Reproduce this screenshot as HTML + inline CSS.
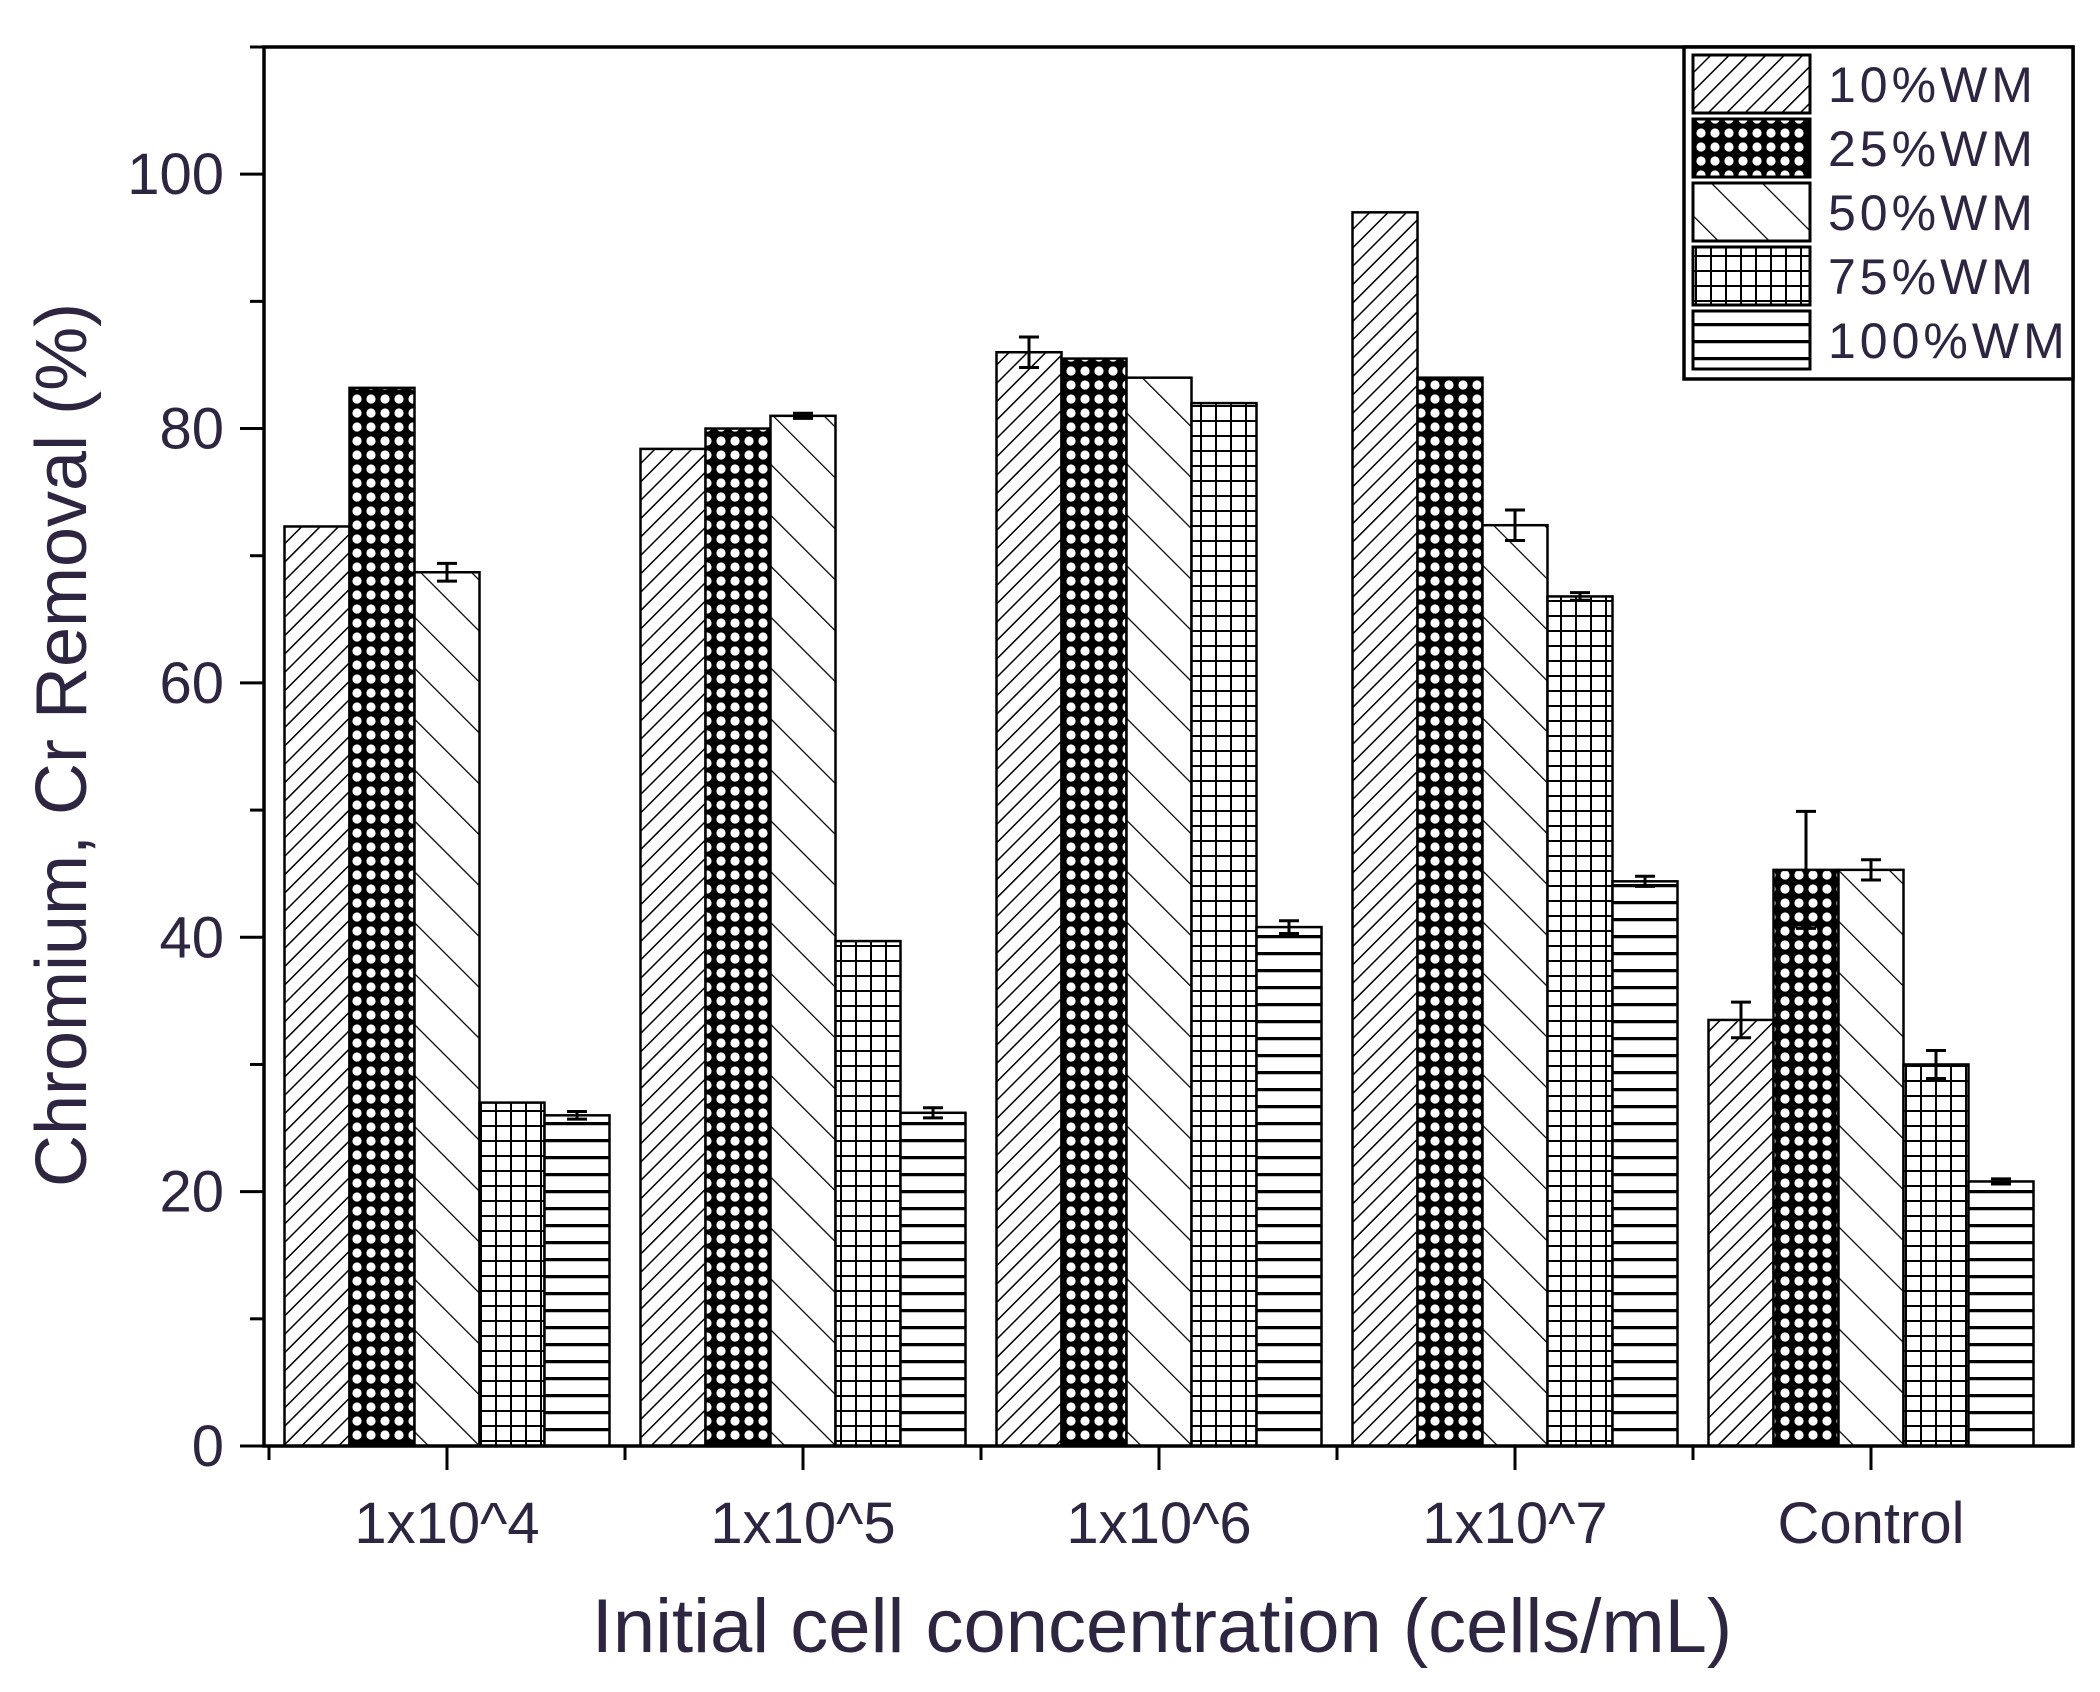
<!DOCTYPE html>
<html><head><meta charset="utf-8"><style>
html,body{margin:0;padding:0;background:#fff;}
svg{display:block;font-family:"Liberation Sans",Arial,sans-serif;}
</style></head><body>
<svg id="chart" width="2100" height="1692" viewBox="0 0 2100 1692" xmlns="http://www.w3.org/2000/svg">
<defs>
<pattern id="p0" patternUnits="userSpaceOnUse" width="13" height="13" patternTransform="rotate(45)"><rect width="13" height="13" fill="#fff"/><line x1="0" y1="0" x2="0" y2="13" stroke="#000" stroke-width="3"/></pattern>
<pattern id="p1" patternUnits="userSpaceOnUse" width="14" height="14"><rect width="14" height="14" fill="#000"/><circle cx="7" cy="7" r="4.6" fill="#fff"/></pattern>
<pattern id="p2" patternUnits="userSpaceOnUse" width="36" height="36" patternTransform="rotate(-45)"><rect width="36" height="36" fill="#fff"/><line x1="0" y1="0" x2="0" y2="36" stroke="#000" stroke-width="2.5"/></pattern>
<pattern id="p3" patternUnits="userSpaceOnUse" width="15" height="15"><rect width="15" height="15" fill="#fff"/><path d="M0 0H15M0 0V15" stroke="#000" stroke-width="4"/></pattern>
<pattern id="p4" patternUnits="userSpaceOnUse" width="17" height="17"><rect width="17" height="17" fill="#fff"/><line x1="0" y1="1.5" x2="17" y2="1.5" stroke="#000" stroke-width="3.5"/></pattern>
</defs>
<g id="plot"></g>
</svg>
<script>
const categories = ["1x10^4","1x10^5","1x10^6","1x10^7","Control"];
const seriesNames = ["10%WM","25%WM","50%WM","75%WM","100%WM"];
const s10 = [72.3, 78.4, 86.0, 97.0, 33.5];
const s25 = [83.2, 80.0, 85.5, 84.0, 45.3];
const s50 = [68.7, 81.0, 84.0, 72.4, 45.3];
const s75 = [27.0, 39.7, 82.0, 66.8, 30.0];
const s100 = [26.0, 26.2, 40.8, 44.4, 20.8];
const e10 = [0, 0, 1.2, 0, 1.4];
const e25 = [0, 0, 0, 0, 4.6];
const e50 = [0.7, 0.2, 0, 1.2, 0.8];
const e75 = [0, 0, 0, 0.3, 1.1];
const e100 = [0.3, 0.4, 0.5, 0.4, 0.2];
const yTicks = [0, 20, 40, 60, 80, 100];

const NS = "http://www.w3.org/2000/svg";
const g = document.getElementById('plot');
const L = 264, R = 2073, T = 47, B = 1446;
const yMax = 110;
const y = v => B - v * (B - T) / yMax;
const xc = i => 447 + i * 356;
const bw = 65;
const TXT = '#2e2640';
function mk(tag, attrs, parent) {
  const e = document.createElementNS(NS, tag);
  for (const k in attrs) e.setAttribute(k, attrs[k]);
  (parent || g).appendChild(e);
  return e;
}
const series = [s10, s25, s50, s75, s100];
const errs = [e10, e25, e50, e75, e100];

series.forEach((s, si) => {
  s.forEach((v, ci) => {
    const x0 = xc(ci) - 2.5 * bw + si * bw;
    const r = mk('rect', {x: x0, y: y(v), width: bw, height: B - y(v), fill: 'url(#p' + si + ')', stroke: '#000', 'stroke-width': 2.5});
    
    
    const e = errs[si][ci];
    if (e > 0) {
      const cx = x0 + bw / 2;
      const eb = mk('path', {d: `M${cx} ${y(v + e)}V${y(v - e)}M${cx - 10} ${y(v + e)}H${cx + 10}M${cx - 10} ${y(v - e)}H${cx + 10}`, stroke: '#000', 'stroke-width': 3, fill: 'none'});
      
      
    }
  });
});

const fr = mk('rect', {x: L, y: T, width: R - L, height: B - T, fill: 'none', stroke: '#000', 'stroke-width': 3.5});



for (let v = 0; v <= 110; v += 10) {
  const major = v % 20 === 0;
  mk('line', {x1: L - (major ? 24 : 14), x2: L, y1: y(v), y2: y(v), stroke: '#000', 'stroke-width': 3});
}
yTicks.forEach(v => {
  const t = mk('text', {x: L - 40, y: y(v) + 20, 'text-anchor': 'end', 'font-size': 58, fill: TXT});
  t.textContent = v;
  
  
});
categories.forEach((c, i) => {
  mk('line', {x1: xc(i), x2: xc(i), y1: B, y2: B + 24, stroke: '#000', 'stroke-width': 3});
  mk('line', {x1: xc(i) - 178, x2: xc(i) - 178, y1: B, y2: B + 14, stroke: '#000', 'stroke-width': 3});
  const t = mk('text', {x: xc(i), y: 1543, 'text-anchor': 'middle', 'font-size': 58, fill: TXT});
  t.textContent = c;
  
  
});
const xt = mk('text', {x: 1162, y: 1652, 'text-anchor': 'middle', 'font-size': 76, fill: TXT});
xt.textContent = 'Initial cell concentration (cells/mL)';


const yt = mk('text', {x: 0, y: 0, 'text-anchor': 'middle', 'font-size': 72, fill: TXT, transform: 'translate(86,745) rotate(-90)'});
yt.textContent = 'Chromium, Cr Removal (%)';



const lg = mk('g', {});


mk('rect', {x: 1684, y: 47, width: 389, height: 332, fill: '#fff', stroke: '#000', 'stroke-width': 3.5}, lg);
seriesNames.forEach((n, i) => {
  const ty = 55 + i * 64;
  const sw = mk('rect', {x: 1693, y: ty, width: 117, height: 58, fill: 'url(#p' + i + ')', stroke: '#000', 'stroke-width': 3}, lg);
  
  
  const t = mk('text', {x: 1828, y: ty + 47, 'font-size': 50, fill: TXT, 'letter-spacing': 4}, lg);
  t.textContent = n;
  
  
});
</script>
</body></html>
